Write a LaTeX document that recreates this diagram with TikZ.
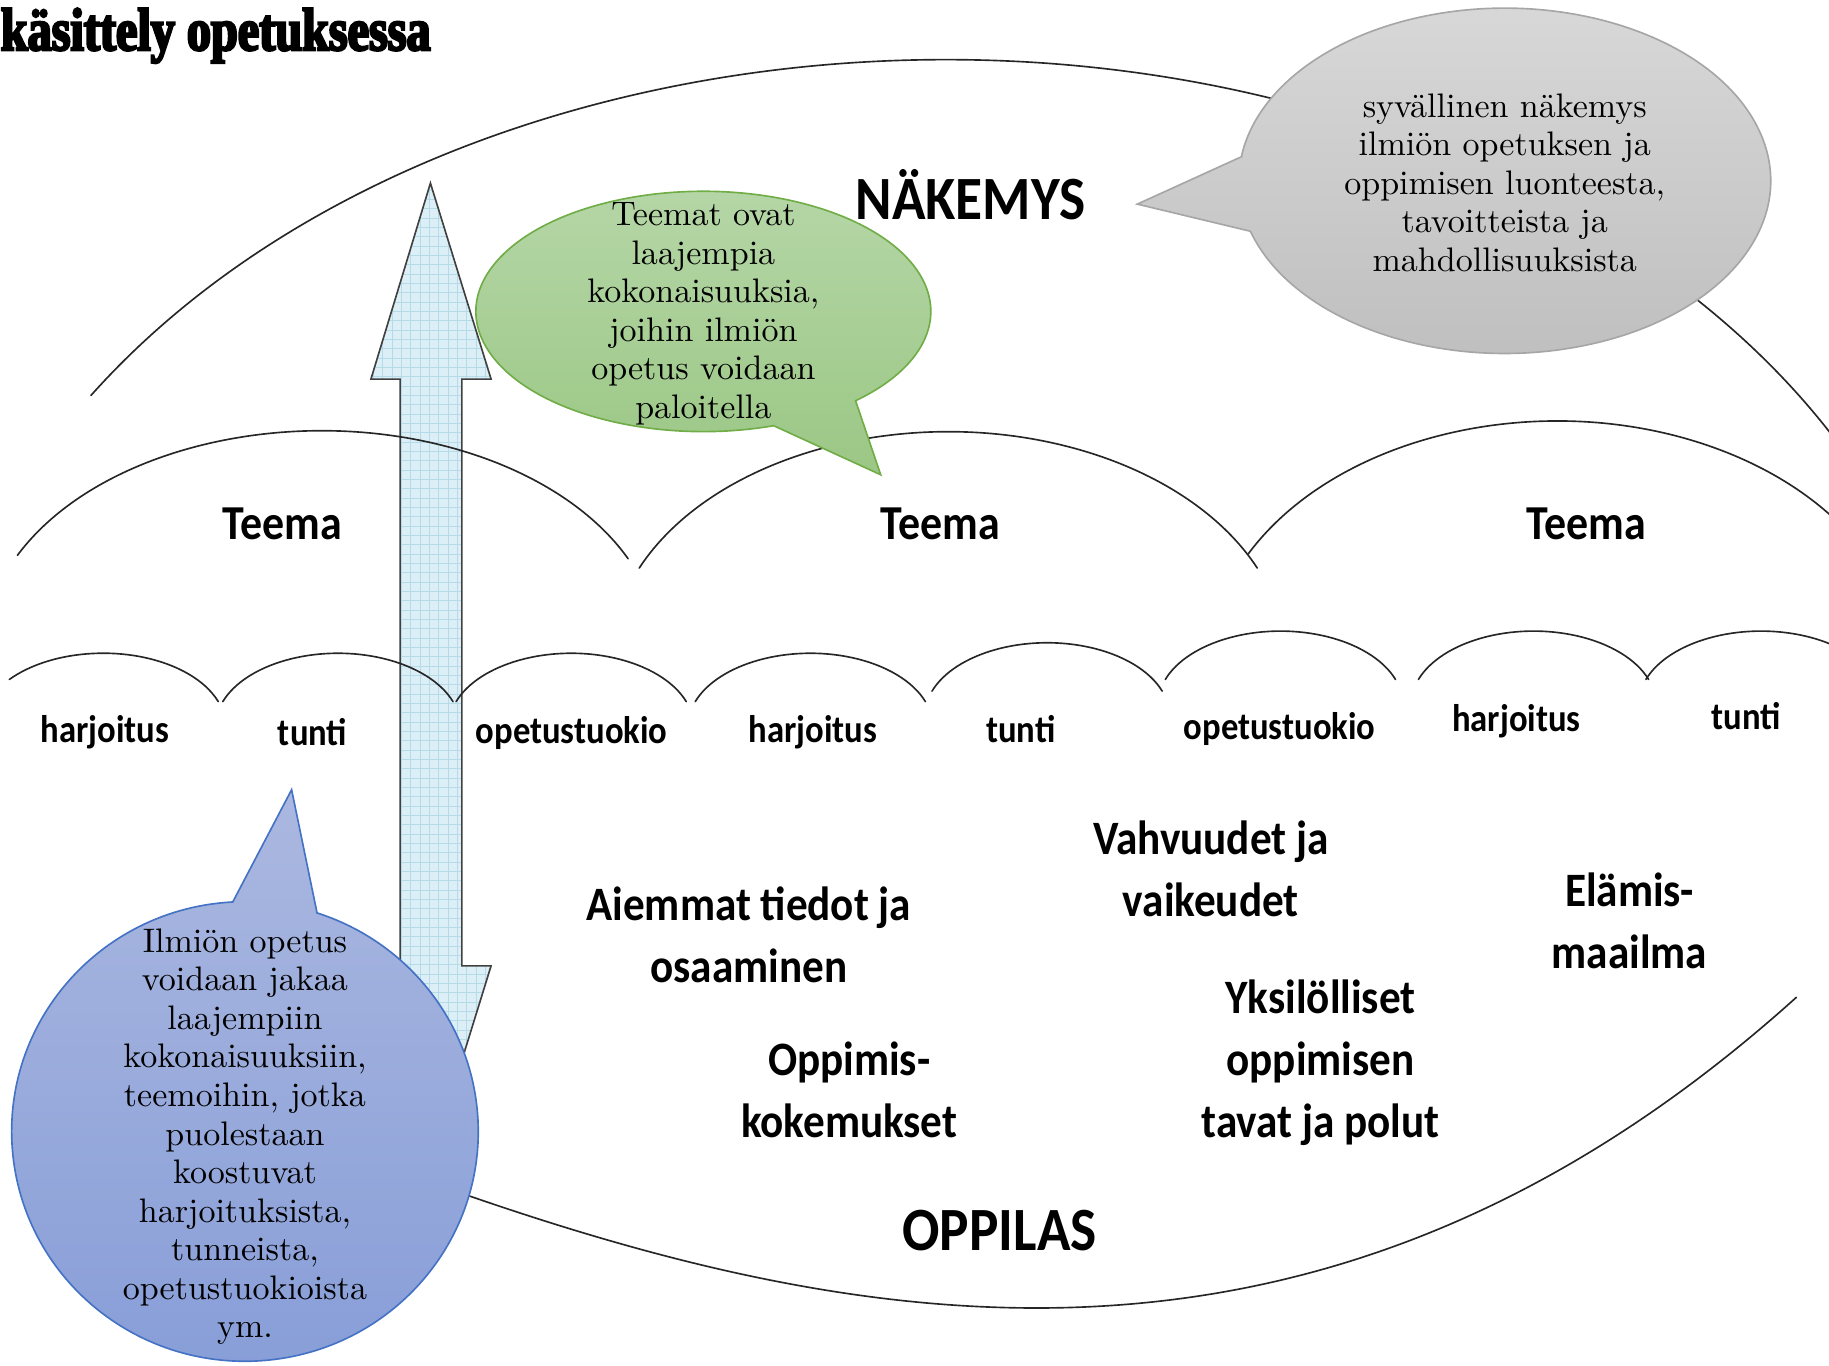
\documentclass[tikz,border=0pt]{standalone}
\usepackage{fontspec}
\usepackage{tikz}
\setmainfont{lmroman10-regular.otf}
\newfontfamily\calibri[FakeStretch=0.9]{Carlito}
\newfontfamily\titlefont[FakeStretch=0.8,FakeBold=4]{Liberation Serif}

\begin{document}
\begin{tikzpicture}
		[line cap=round,
		%Styles
		arc line/.style={black!85,thin},
		small label/.style={font=\calibri\bfseries\fontsize{9.4}{11}\selectfont,inner sep=0pt},
		theme label/.style={font=\calibri\bfseries\fontsize{11.9}{14}\selectfont,inner sep=0pt},
		big label/.style={font=\calibri\bfseries\fontsize{15}{18}\selectfont,inner sep=0pt},
		pupil text/.style={font=\calibri\bfseries\fontsize{11.7}{15.1}\selectfont,align=center,inner sep=0pt},
		bubble text/.style={font=\fontsize{8.3}{9.4}\selectfont,align=center,inner sep=0pt},
		grey bubble/.style={draw=greyline,top color=greytop,bottom color=greybottom},
		green bubble/.style={draw=greenline,top color=greentop,bottom color=greenbottom},
		blue bubble/.style={draw=blueline,top color=bluetop,bottom color=bluebottom},
		big arrow/.style={draw=black!75,fill=arrowfill,
			path picture={\draw[step=0.08,arrowgrid,very thin] (path picture bounding box.south west) grid (path picture bounding box.north east);}}
		]
		
		%Colors
		\definecolor{greytop}{HTML}{D9D9D9}
		\definecolor{greybottom}{HTML}{BEBEBE}
		\definecolor{greyline}{HTML}{A6A6A6}
		\definecolor{greentop}{HTML}{B6D7A8}
		\definecolor{greenbottom}{HTML}{9BC785}
		\definecolor{greenline}{HTML}{70AD47}
		\definecolor{bluetop}{HTML}{ABB8E0}
		\definecolor{bluebottom}{HTML}{889ED8}
		\definecolor{blueline}{HTML}{4472C4}
		\definecolor{arrowfill}{HTML}{DDEFF6}
		\definecolor{arrowgrid}{HTML}{B5DAE8}
		
		\useasboundingbox (0,0) rectangle (15.68,11.71);
		
		%The graphic
		\draw[big arrow] (3.69,10.14) -- (4.21,8.46) -- (3.96,8.46) -- (3.96,3.43) -- (4.21,3.43) -- (3.69,1.75)
			-- (3.18,3.43) -- (3.43,3.43) -- (3.43,8.46) -- (3.18,8.46) -- cycle;
		
		\draw[arc line] (0.78,8.32) arc[start angle=147.3,end angle=25,x radius=8.7,y radius=6.26];
		\draw[arc line] (3.90,1.50) .. controls (7.45,0.26) and (11.40,-0.44) .. (15.40,3.16);
		
		\draw[arc line] (0.15,6.95) arc[start angle=154,end angle=25,x radius=2.9,y radius=1.9];
		\draw[arc line] (5.48,6.84) arc[start angle=156,end angle=24,x radius=2.9,y radius=1.97];
		\draw[arc line] (10.70,6.96) arc[start angle=152,end angle=20,x radius=3,y radius=2.15];
		
		\draw[arc line] (0.08,5.885) arc[start angle=140,end angle=20,x radius=1.05,y radius=0.63];
		\draw[arc line] (1.91,5.695) arc[start angle=160,end angle=20,x radius=1.05,y radius=0.63];
		\draw[arc line] (3.91,5.695) arc[start angle=160,end angle=20,x radius=1.05,y radius=0.63];
		\draw[arc line] (5.96,5.695) arc[start angle=160,end angle=20,x radius=1.05,y radius=0.63];
		\draw[arc line] (7.99,5.785) arc[start angle=160,end angle=20,x radius=1.05,y radius=0.63];
		\draw[arc line] (9.99,5.885) arc[start angle=160,end angle=20,x radius=1.05,y radius=0.63];
		\draw[arc line] (12.16,5.885) arc[start angle=160,end angle=20,x radius=1.05,y radius=0.63];
		\draw[arc line] (14.11,5.885) arc[start angle=160,end angle=20,x radius=1.05,y radius=0.63];
		
		%Bubbles
		\coordinate (greyc) at (12.90,10.16);
		\coordinate (greenc) at (6.03,9.04);
		\coordinate (bluec) at (2.10,2.01);
		
		\draw[grey bubble] ([shift={(172:2.28 and 1.48)}]greyc) -- (9.75,9.96) -- ([shift={(197:2.28 and 1.48)}]greyc)
			arc[start angle=197,end angle=532,x radius=2.28,y radius=1.48] -- cycle;
		\draw[green bubble] ([shift={(312:1.95 and 1.03)}]greenc) -- (7.55,7.64) -- ([shift={(288:1.95 and 1.03)}]greenc)
			arc[start angle=288,end angle=-48,x radius=1.95,y radius=1.03] -- cycle;
		\draw[blue bubble] ([shift={(72:2 and 1.97)}]bluec) -- (2.50,4.94) -- ([shift={(93:2 and 1.97)}]bluec)
			arc[start angle=93,end angle=432,x radius=2,y radius=1.97] -- cycle;
		
		\node[bubble text] (syvallinen) at (12.90,10.145) {syvällinen näkemys\\ilmiön opetuksen ja\\oppimisen luonteesta,\\tavoitteista ja\\mahdollisuuksista};
		\node[bubble text] (teemat) at (6.03,9.02) {Teemat ovat\\laajempia\\kokonaisuuksia,\\joihin ilmiön\\opetus voidaan\\paloitella};
		\node[bubble text] (ilmion) at (2.10,1.965) {Ilmiön opetus\\voidaan jakaa\\laajempiin\\kokonaisuuksiin,\\teemoihin, jotka\\puolestaan\\koostuvat\\harjoituksista,\\tunneista,\\opetustuokioista\\ym.};
		
		%Texts
		\node[anchor=base west,inner sep=0pt,font=\titlefont\bfseries\fontsize{14.7}{15}\selectfont] (otsikko) at (0,11.28) {käsittely opetuksessa};
		
		\node[big label] (nakemys) at (8.32,10.04) {NÄKEMYS};
		\node[big label] (oppilas) at (8.57,1.16) {OPPILAS};
		
		\node[theme label] (teema1) at (2.42,7.22) {Teema};
		\node[theme label] (teema2) at (8.06,7.22) {Teema};
		\node[theme label] (teema3) at (13.60,7.22) {Teema};
		
		\node[small label] (harjoitus1) at (0.90,5.43) {harjoitus};
		\node[small label] (tunti1) at (2.68,5.43) {tunti};
		\node[small label] (tuokio1) at (4.90,5.43) {opetustuokio};
		\node[small label] (harjoitus2) at (6.97,5.43) {harjoitus};
		\node[small label] (tunti2) at (8.75,5.46) {tunti};
		\node[small label] (tuokio2) at (10.97,5.46) {opetustuokio};
		\node[small label] (harjoitus3) at (13.00,5.53) {harjoitus};
		\node[small label] (tunti3) at (14.97,5.57) {tunti};
		
		\node[pupil text] (aiemmat) at (6.42,3.695) {Aiemmat tiedot ja\\osaaminen};
		\node[pupil text] (vahvuudet) at (10.38,4.265) {Vahvuudet ja\\vaikeudet};
		\node[pupil text] (elamis) at (13.97,3.815) {Elämis-\\maailma};
		\node[pupil text] (yksilolliset) at (11.32,2.60) {Yksilölliset\\oppimisen\\tavat ja polut};
		\node[pupil text] (kokemukset) at (7.28,2.37) {Oppimis-\\kokemukset};
	\end{tikzpicture}
\end{document}
